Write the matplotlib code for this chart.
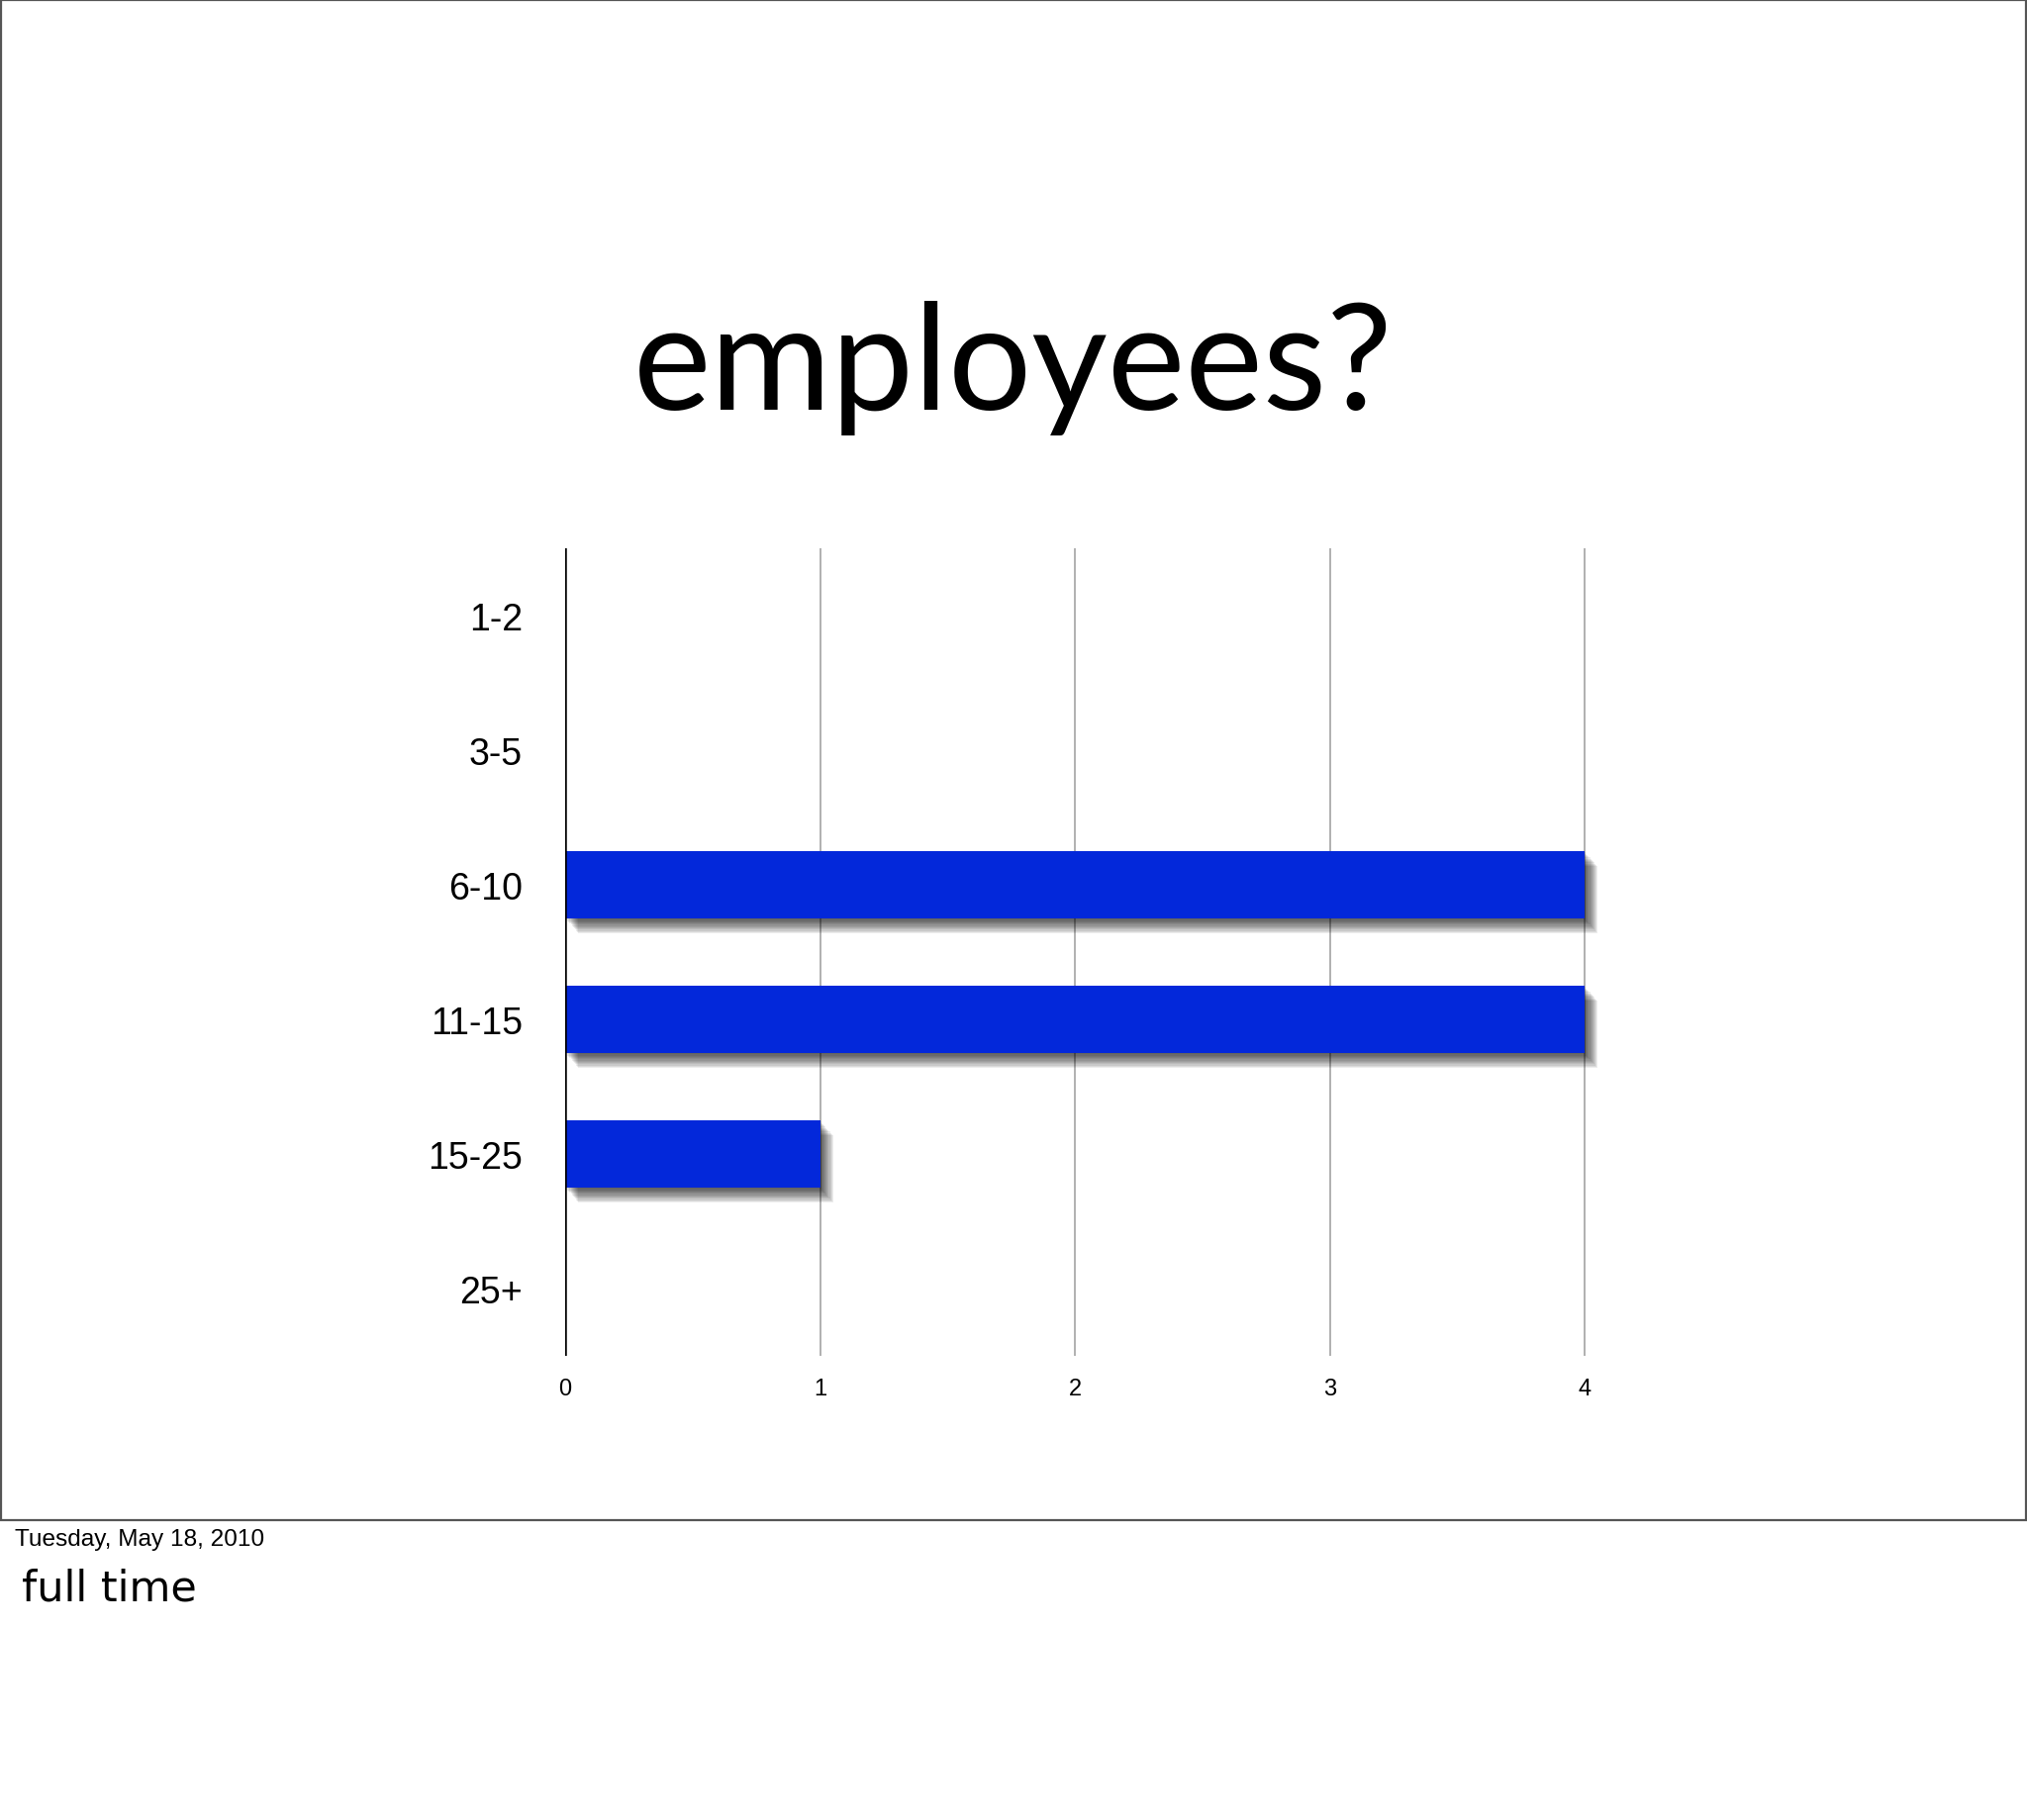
import matplotlib
matplotlib.use("Agg")
import matplotlib.pyplot as plt
from matplotlib.patches import Rectangle
import matplotlib.patheffects as pe

W, H, DPI = 2048, 1840, 100

# data
categories = ["1-2", "3-5", "6-10", "11-15", "15-25", "25+"]
counts = [0, 0, 4, 4, 1, 0]
x_ticks = [0, 1, 2, 3, 4]

TITLE = "employees?"
DATE_TEXT = "Tuesday, May 18, 2010"
NOTE_TEXT = "full time"

BAR_COLOR = "#0328DA"
GRID_COLOR = "#AAAAAA"
BORDER_COLOR = "#555555"


def px_x(p):
    return p / W


def px_y(p):
    return 1 - p / H


fig = plt.figure(figsize=(W / DPI, H / DPI), dpi=DPI)
fig.patch.set_facecolor("white")

# slide border
fig.patches.append(Rectangle((px_x(1), px_y(1537)), px_x(2046), 1536 / H,
                             transform=fig.transFigure, fill=False,
                             edgecolor=BORDER_COLOR, linewidth=1.6))

# axes: x=0 at 571px, one unit = 257.5px, top 555px, bottom 1371px
x_max = 4.1
unit = 257.5
ax = fig.add_axes([px_x(571), px_y(1371), x_max * unit / W, (1371 - 555) / H])
ax.set_xlim(0, x_max)
ax.set_ylim(len(categories) - 0.5, -0.5)

for v in x_ticks[1:]:
    ax.axvline(v, color=GRID_COLOR, linewidth=1.3, zorder=1)
ax.axvline(0, color="black", linewidth=1.8, zorder=4)

# soft drop shadow from stacked translucent offsets
shadow = [pe.SimplePatchShadow(offset=(0.8 * d, -0.9 * d), shadow_rgbFace="black", alpha=0.075)
          for d in range(1, 13)]
bars = ax.barh(range(len(categories)), counts, height=0.5, color=BAR_COLOR,
               edgecolor="none", zorder=3)
for b in bars:
    if b.get_width() > 0:
        b.set_path_effects(shadow + [pe.Normal()])

ax.set_yticks(range(len(categories)))
ax.set_yticklabels(categories, fontsize=27, family="Liberation Sans")
ax.set_xticks(x_ticks)
ax.set_xticklabels([str(t) for t in x_ticks], fontsize=17, family="Liberation Sans")
ax.tick_params(axis="y", length=0, pad=31)
ax.tick_params(axis="x", length=0, pad=16)
for s in ax.spines.values():
    s.set_visible(False)

fig.text(0.5, px_y(414), TITLE, ha="center", va="baseline", fontsize=107,
         family="Lato")
fig.text(px_x(15), px_y(1562), DATE_TEXT, ha="left", va="baseline", fontsize=17.6,
         family="Liberation Sans")
fig.text(px_x(22), px_y(1618), NOTE_TEXT, ha="left", va="baseline", fontsize=31,
         family="DejaVu Sans")

fig.savefig("out.png", dpi=DPI)
